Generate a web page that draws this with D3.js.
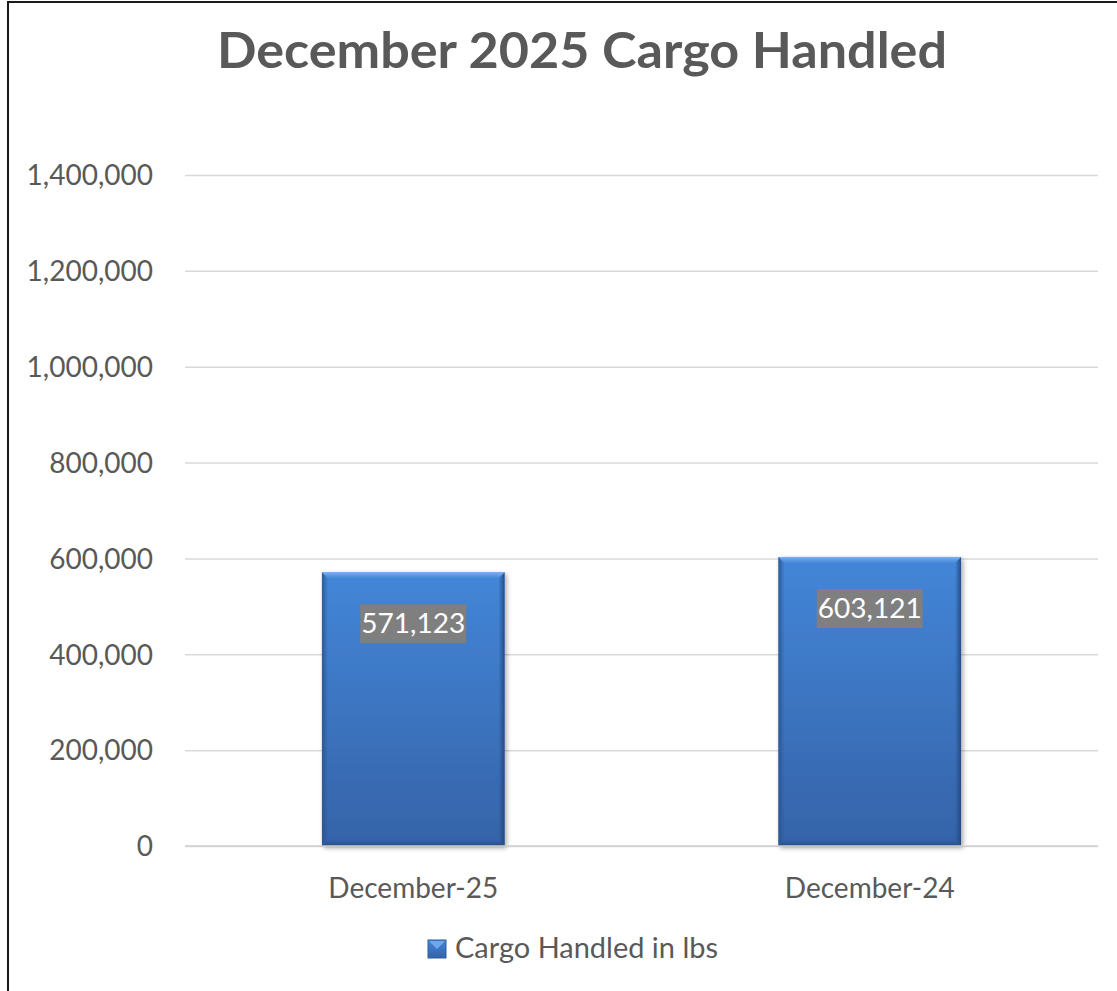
<!DOCTYPE html>
<html><head><meta charset="utf-8">
<script src="https://cdn.jsdelivr.net/npm/d3@7"></script>
<style>
html,body{margin:0;padding:0;background:#fff;}
svg{display:block;font-family:Lato,"Open Sans",sans-serif;}
</style></head>
<body>
<svg id="chart" width="1117" height="991"></svg>
<script>
const title = "December 2025 Cargo Handled";
const categories = ["December-25", "December-24"];
const seriesName = "Cargo Handled in lbs";
const values = [571123, 603121];
const yTicks = [0, 200000, 400000, 600000, 800000, 1000000, 1200000, 1400000];

const svg = d3.select("#chart");
const W = 1117, H = 991;
const plot = {left: 185, right: 1098, top: 175, bottom: 846};
const textColor = "#595959";

// defs
const defs = svg.append("defs");
const g1 = defs.append("linearGradient").attr("id","barGrad").attr("x1",0).attr("y1",0).attr("x2",0).attr("y2",1);
g1.append("stop").attr("offset","0%").attr("stop-color","#4386d8");
g1.append("stop").attr("offset","100%").attr("stop-color","#3563a8");
const gl = defs.append("linearGradient").attr("id","leftBevel").attr("x1",0).attr("y1",0).attr("x2",1).attr("y2",0);
gl.append("stop").attr("offset","0%").attr("stop-color","#2a5490").attr("stop-opacity",0.9);
gl.append("stop").attr("offset","100%").attr("stop-color","#2a5490").attr("stop-opacity",0);
const gr = defs.append("linearGradient").attr("id","rightBevel").attr("x1",1).attr("y1",0).attr("x2",0).attr("y2",0);
gr.append("stop").attr("offset","0%").attr("stop-color","#22497f").attr("stop-opacity",0.95);
gr.append("stop").attr("offset","100%").attr("stop-color","#22497f").attr("stop-opacity",0);
const gt = defs.append("linearGradient").attr("id","topBevel").attr("x1",0).attr("y1",0).attr("x2",0).attr("y2",1);
gt.append("stop").attr("offset","0%").attr("stop-color","#7fb4ee").attr("stop-opacity",1);
gt.append("stop").attr("offset","100%").attr("stop-color","#5a98e0").attr("stop-opacity",0.3);
const gb = defs.append("linearGradient").attr("id","botBevel").attr("x1",0).attr("y1",1).attr("x2",0).attr("y2",0);
gb.append("stop").attr("offset","0%").attr("stop-color","#244b82").attr("stop-opacity",0.9);
gb.append("stop").attr("offset","100%").attr("stop-color","#244b82").attr("stop-opacity",0);
const f = defs.append("filter").attr("id","shadow").attr("x","-20%").attr("y","-20%").attr("width","140%").attr("height","140%");
f.append("feGaussianBlur").attr("in","SourceAlpha").attr("stdDeviation",2.5);
f.append("feOffset").attr("dx",2).attr("dy",2).attr("result","b");
f.append("feComponentTransfer").append("feFuncA").attr("type","linear").attr("slope",0.35);
const fm = f.append("feMerge"); fm.append("feMergeNode"); fm.append("feMergeNode").attr("in","SourceGraphic");

// white bg + border (left & top)
svg.append("rect").attr("width",W).attr("height",H).attr("fill","#fff");
svg.append("line").attr("x1",8).attr("x2",8).attr("y1",1).attr("y2",H).attr("stroke","#1a1a1a").attr("stroke-width",2);
svg.append("line").attr("x1",7).attr("x2",W).attr("y1",2).attr("y2",2).attr("stroke","#1a1a1a").attr("stroke-width",2);

// title
svg.append("text").attr("x",582).attr("y",68).attr("text-anchor","middle")
  .attr("font-size",50).attr("font-weight","bold").attr("fill",textColor)
  .attr("textLength",730).attr("lengthAdjust","spacingAndGlyphs").text(title);

const y = d3.scaleLinear().domain([0, d3.max(yTicks)]).range([plot.bottom, plot.top]);
const x = d3.scaleBand().domain(categories).range([plot.left, plot.right]).paddingInner(0.6).paddingOuter(0.3);

// gridlines
const yAxis = d3.axisLeft(y).tickValues(yTicks).tickSize(-(plot.right-plot.left)).tickPadding(32)
  .tickFormat(d3.format(","));
const ga = svg.append("g").attr("transform",`translate(${plot.left},0)`).call(yAxis);
ga.select(".domain").remove();
ga.selectAll(".tick line").attr("stroke","#d9d9d9").attr("stroke-width",1.5);
ga.selectAll(".tick text").attr("font-size",28).attr("fill",textColor).attr("font-family","Lato, sans-serif").attr("dy","0.35em");

// bars
const bars = svg.append("g");
categories.forEach((c,i)=>{
  const bx = x(c), bw = x.bandwidth(), by = y(values[i]), bh = plot.bottom - by;
  const g = bars.append("g");
  g.append("rect").attr("x",bx).attr("y",by).attr("width",bw).attr("height",bh).attr("fill","url(#barGrad)").attr("filter","url(#shadow)");
  const bev = 6;
  g.append("path").attr("d",`M${bx},${by}L${bx+bev},${by+bev}L${bx+bev},${by+bh-bev}L${bx},${by+bh}Z`).attr("fill","url(#leftBevel)");
  g.append("path").attr("d",`M${bx+bw},${by}L${bx+bw-bev},${by+bev}L${bx+bw-bev},${by+bh-bev}L${bx+bw},${by+bh}Z`).attr("fill","url(#rightBevel)");
  g.append("path").attr("d",`M${bx},${by}L${bx+bw},${by}L${bx+bw-bev},${by+bev}L${bx+bev},${by+bev}Z`).attr("fill","url(#topBevel)");
  g.append("path").attr("d",`M${bx},${by+bh}L${bx+bw},${by+bh}L${bx+bw-bev},${by+bh-bev}L${bx+bev},${by+bh-bev}Z`).attr("fill","url(#botBevel)");
  // label
  const cx = bx + bw/2, ly = by + 32;
  const lbl = d3.format(",")(values[i]);
  g.append("rect").attr("x",cx-53).attr("y",ly).attr("width",106).attr("height",39).attr("fill","#7f7f7f");
  g.append("text").attr("x",cx).attr("y",ly+29).attr("text-anchor","middle").attr("font-size",27)
    .attr("fill","#fff").attr("textLength",104).attr("lengthAdjust","spacingAndGlyphs").text(lbl);
});

// zero axis line on top
svg.append("line").attr("x1",plot.left).attr("x2",plot.right).attr("y1",y(0)).attr("y2",y(0)).attr("stroke","#d0d0d0").attr("stroke-width",1.5);

// x labels
categories.forEach(c=>{
  svg.append("text").attr("x",x(c)+x.bandwidth()/2).attr("y",898).attr("text-anchor","middle")
    .attr("font-size",28).attr("fill",textColor).text(c);
});

// legend
const lg = svg.append("g");
lg.append("rect").attr("x",428).attr("y",940).attr("width",18).attr("height",18).attr("fill","url(#barGrad)").attr("stroke","#2f5e9e").attr("stroke-width",1);
lg.append("path").attr("d","M429,941L437,949L445,941Z").attr("fill","#6fa8ea");
lg.append("text").attr("x",455).attr("y",958).attr("font-size",28).attr("fill",textColor)
  .attr("textLength",263).attr("lengthAdjust","spacingAndGlyphs").text(seriesName);
</script>
</body></html>
